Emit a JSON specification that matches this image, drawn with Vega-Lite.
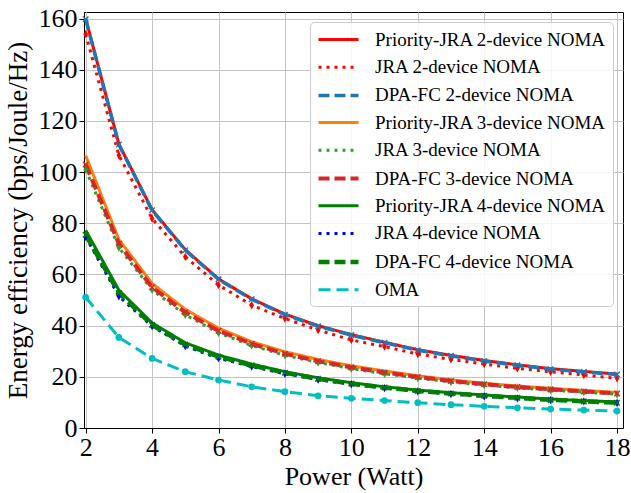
{
  "$schema": "https://vega.github.io/schema/vega-lite/v6.json",
  "width": 539,
  "height": 416,
  "autosize": {"type": "none"},
  "padding": {"left": 84, "top": 12, "right": 8, "bottom": 65},
  "background": "white",
  "config": {
    "font": "Liberation Serif",
    "view": {"stroke": "black", "strokeWidth": 1},
    "axis": {
      "labelFont": "Liberation Serif",
      "titleFont": "Liberation Serif",
      "labelFontSize": 26,
      "titleFontSize": 26,
      "labelColor": "black",
      "titleColor": "black",
      "titleFontWeight": "normal",
      "domainColor": "black",
      "tickColor": "black",
      "tickSize": 5,
      "gridColor": "#c4c4c4",
      "gridWidth": 1
    },
    "legend": {
      "labelFont": "Liberation Serif",
      "labelFontSize": 19,
      "labelColor": "black",
      "labelLimit": 0
    }
  },
  "data": {
    "values": [
      {"P": 2, "Priority-JRA 2-device NOMA": 160, "JRA 2-device NOMA": 154, "DPA-FC 2-device NOMA": 159.8, "Priority-JRA 3-device NOMA": 106.5, "JRA 3-device NOMA": 101, "DPA-FC 3-device NOMA": 103, "Priority-JRA 4-device NOMA": 77.3, "JRA 4-device NOMA": 74.7, "DPA-FC 4-device NOMA": 75.5, "OMA": 51.1},
      {"P": 3, "Priority-JRA 2-device NOMA": 111, "JRA 2-device NOMA": 106.6, "DPA-FC 2-device NOMA": 110.8, "Priority-JRA 3-device NOMA": 73.7, "JRA 3-device NOMA": 70.5, "DPA-FC 3-device NOMA": 72, "Priority-JRA 4-device NOMA": 53.9, "JRA 4-device NOMA": 51.5, "DPA-FC 4-device NOMA": 52.8, "OMA": 35.4},
      {"P": 4, "Priority-JRA 2-device NOMA": 85.3, "JRA 2-device NOMA": 81.9, "DPA-FC 2-device NOMA": 85.1, "Priority-JRA 3-device NOMA": 56.5, "JRA 3-device NOMA": 54, "DPA-FC 3-device NOMA": 55, "Priority-JRA 4-device NOMA": 41.1, "JRA 4-device NOMA": 39.8, "DPA-FC 4-device NOMA": 40.3, "OMA": 27.2},
      {"P": 5, "Priority-JRA 2-device NOMA": 69.7, "JRA 2-device NOMA": 66.9, "DPA-FC 2-device NOMA": 69.5, "Priority-JRA 3-device NOMA": 46.4, "JRA 3-device NOMA": 44.2, "DPA-FC 3-device NOMA": 45.2, "Priority-JRA 4-device NOMA": 33.3, "JRA 4-device NOMA": 32, "DPA-FC 4-device NOMA": 32.6, "OMA": 22},
      {"P": 6, "Priority-JRA 2-device NOMA": 58.3, "JRA 2-device NOMA": 55.9, "DPA-FC 2-device NOMA": 58.1, "Priority-JRA 3-device NOMA": 39, "JRA 3-device NOMA": 37.2, "DPA-FC 3-device NOMA": 38, "Priority-JRA 4-device NOMA": 28.5, "JRA 4-device NOMA": 27.3, "DPA-FC 4-device NOMA": 27.9, "OMA": 18.75},
      {"P": 7, "Priority-JRA 2-device NOMA": 50.5, "JRA 2-device NOMA": 48, "DPA-FC 2-device NOMA": 50.3, "Priority-JRA 3-device NOMA": 33.7, "JRA 3-device NOMA": 32.2, "DPA-FC 3-device NOMA": 32.9, "Priority-JRA 4-device NOMA": 25, "JRA 4-device NOMA": 24, "DPA-FC 4-device NOMA": 24.5, "OMA": 16.1},
      {"P": 8, "Priority-JRA 2-device NOMA": 44.5, "JRA 2-device NOMA": 42.8, "DPA-FC 2-device NOMA": 44.3, "Priority-JRA 3-device NOMA": 29.8, "JRA 3-device NOMA": 28.4, "DPA-FC 3-device NOMA": 29, "Priority-JRA 4-device NOMA": 22, "JRA 4-device NOMA": 21.2, "DPA-FC 4-device NOMA": 21.6, "OMA": 14.2},
      {"P": 9, "Priority-JRA 2-device NOMA": 40, "JRA 2-device NOMA": 38.3, "DPA-FC 2-device NOMA": 39.8, "Priority-JRA 3-device NOMA": 26.8, "JRA 3-device NOMA": 25.6, "DPA-FC 3-device NOMA": 26.1, "Priority-JRA 4-device NOMA": 19.6, "JRA 4-device NOMA": 18.9, "DPA-FC 4-device NOMA": 19.2, "OMA": 12.6},
      {"P": 10, "Priority-JRA 2-device NOMA": 36.5, "JRA 2-device NOMA": 34.4, "DPA-FC 2-device NOMA": 36.3, "Priority-JRA 3-device NOMA": 24.3, "JRA 3-device NOMA": 23.2, "DPA-FC 3-device NOMA": 23.7, "Priority-JRA 4-device NOMA": 17.7, "JRA 4-device NOMA": 17.1, "DPA-FC 4-device NOMA": 17.3, "OMA": 11.6},
      {"P": 11, "Priority-JRA 2-device NOMA": 33.5, "JRA 2-device NOMA": 31.8, "DPA-FC 2-device NOMA": 33.3, "Priority-JRA 3-device NOMA": 22.3, "JRA 3-device NOMA": 21.2, "DPA-FC 3-device NOMA": 21.7, "Priority-JRA 4-device NOMA": 16.1, "JRA 4-device NOMA": 15.6, "DPA-FC 4-device NOMA": 15.8, "OMA": 10.7},
      {"P": 12, "Priority-JRA 2-device NOMA": 30.6, "JRA 2-device NOMA": 28.9, "DPA-FC 2-device NOMA": 30.4, "Priority-JRA 3-device NOMA": 20.4, "JRA 3-device NOMA": 19.5, "DPA-FC 3-device NOMA": 19.9, "Priority-JRA 4-device NOMA": 14.8, "JRA 4-device NOMA": 14.3, "DPA-FC 4-device NOMA": 14.5, "OMA": 9.9},
      {"P": 13, "Priority-JRA 2-device NOMA": 28.4, "JRA 2-device NOMA": 26.8, "DPA-FC 2-device NOMA": 28.2, "Priority-JRA 3-device NOMA": 18.8, "JRA 3-device NOMA": 18, "DPA-FC 3-device NOMA": 18.4, "Priority-JRA 4-device NOMA": 13.8, "JRA 4-device NOMA": 13.3, "DPA-FC 4-device NOMA": 13.5, "OMA": 9.1},
      {"P": 14, "Priority-JRA 2-device NOMA": 26.4, "JRA 2-device NOMA": 25, "DPA-FC 2-device NOMA": 26.2, "Priority-JRA 3-device NOMA": 17.5, "JRA 3-device NOMA": 16.8, "DPA-FC 3-device NOMA": 17.1, "Priority-JRA 4-device NOMA": 12.9, "JRA 4-device NOMA": 12.4, "DPA-FC 4-device NOMA": 12.6, "OMA": 8.5},
      {"P": 15, "Priority-JRA 2-device NOMA": 24.7, "JRA 2-device NOMA": 23.3, "DPA-FC 2-device NOMA": 24.5, "Priority-JRA 3-device NOMA": 16.4, "JRA 3-device NOMA": 15.7, "DPA-FC 3-device NOMA": 16, "Priority-JRA 4-device NOMA": 12.1, "JRA 4-device NOMA": 11.6, "DPA-FC 4-device NOMA": 11.8, "OMA": 7.9},
      {"P": 16, "Priority-JRA 2-device NOMA": 23.2, "JRA 2-device NOMA": 22, "DPA-FC 2-device NOMA": 23, "Priority-JRA 3-device NOMA": 15.5, "JRA 3-device NOMA": 14.8, "DPA-FC 3-device NOMA": 15.1, "Priority-JRA 4-device NOMA": 11.3, "JRA 4-device NOMA": 10.9, "DPA-FC 4-device NOMA": 11, "OMA": 7.4},
      {"P": 17, "Priority-JRA 2-device NOMA": 22.1, "JRA 2-device NOMA": 20.7, "DPA-FC 2-device NOMA": 21.9, "Priority-JRA 3-device NOMA": 14.7, "JRA 3-device NOMA": 14, "DPA-FC 3-device NOMA": 14.3, "Priority-JRA 4-device NOMA": 10.7, "JRA 4-device NOMA": 10.4, "DPA-FC 4-device NOMA": 10.4, "OMA": 7},
      {"P": 18, "Priority-JRA 2-device NOMA": 21.1, "JRA 2-device NOMA": 19.4, "DPA-FC 2-device NOMA": 20.9, "Priority-JRA 3-device NOMA": 13.9, "JRA 3-device NOMA": 13.2, "DPA-FC 3-device NOMA": 13.5, "Priority-JRA 4-device NOMA": 10.2, "JRA 4-device NOMA": 9.8, "DPA-FC 4-device NOMA": 9.9, "OMA": 6.6}
    ]
  },
  "transform": [
    {"fold": ["Priority-JRA 2-device NOMA", "JRA 2-device NOMA", "DPA-FC 2-device NOMA", "Priority-JRA 3-device NOMA", "JRA 3-device NOMA", "DPA-FC 3-device NOMA", "Priority-JRA 4-device NOMA", "JRA 4-device NOMA", "DPA-FC 4-device NOMA", "OMA"], "as": ["series", "value"]}
  ],
  "encoding": {
    "x": {
      "field": "P", "type": "quantitative",
      "scale": {"domain": [1.95, 18.18], "nice": false, "zero": false},
      "axis": {"values": [2, 4, 6, 8, 10, 12, 14, 16, 18], "title": "Power (Watt)", "labelPadding": 1, "titlePadding": 3, "labelFlush": false}
    },
    "y": {
      "field": "value", "type": "quantitative",
      "scale": {"domain": [0, 162.6], "nice": false},
      "axis": {"values": [0, 20, 40, 60, 80, 100, 120, 140, 160], "title": "Energy efficiency (bps/Joule/Hz)", "labelPadding": 2, "titlePadding": 6, "titleFontSize": 27, "labelFlush": false}
    }
  },
  "layer": [
    {
      "mark": {"type": "line", "strokeCap": "butt"},
      "encoding": {
        "color": {
          "field": "series", "type": "nominal",
          "scale": {
            "domain": ["Priority-JRA 2-device NOMA", "JRA 2-device NOMA", "DPA-FC 2-device NOMA", "Priority-JRA 3-device NOMA", "JRA 3-device NOMA", "DPA-FC 3-device NOMA", "Priority-JRA 4-device NOMA", "JRA 4-device NOMA", "DPA-FC 4-device NOMA", "OMA"],
            "range": ["#ff0000", "#ff0000", "#1f77b4", "#ff7f0e", "#2ca02c", "#d62728", "#008000", "#0000ff", "#008000", "#00bfbf"]
          },
          "legend": {
            "title": null,
            "orient": "top-right",
            "offset": 10,
            "symbolType": "M-1,0L3,0",
            "symbolSize": 400,
            "symbolStrokeWidth": 3.5,
            "labelOffset": 34,
            "rowPadding": 5.7,
            "padding": 6,
            "fillColor": "rgba(255,255,255,0.85)",
            "strokeColor": "#cccccc",
            "cornerRadius": 4
          }
        },
        "strokeDash": {
          "field": "series", "type": "nominal",
          "scale": {
            "domain": ["Priority-JRA 2-device NOMA", "JRA 2-device NOMA", "DPA-FC 2-device NOMA", "Priority-JRA 3-device NOMA", "JRA 3-device NOMA", "DPA-FC 3-device NOMA", "Priority-JRA 4-device NOMA", "JRA 4-device NOMA", "DPA-FC 4-device NOMA", "OMA"],
            "range": [[1, 0], [3, 5], [11, 5], [1, 0], [3, 5], [11, 5], [1, 0], [3, 5], [11, 5], [12, 6]]
          },
          "legend": {"title": null}
        },
        "strokeWidth": {
          "field": "series", "type": "nominal",
          "scale": {
            "type": "ordinal",
            "domain": ["Priority-JRA 2-device NOMA", "JRA 2-device NOMA", "DPA-FC 2-device NOMA", "Priority-JRA 3-device NOMA", "JRA 3-device NOMA", "DPA-FC 3-device NOMA", "Priority-JRA 4-device NOMA", "JRA 4-device NOMA", "DPA-FC 4-device NOMA", "OMA"],
            "range": [3, 3, 3.5, 3, 3, 4, 3, 3, 4.5, 3]
          },
          "legend": null
        }
      }
    },
    {
      "transform": [{"filter": "indexof(datum.series, 'JRA') == 0"}],
      "mark": {"type": "point", "filled": true, "opacity": 1, "shape": "M0,-1L0.55,0L0,1L-0.55,0Z", "size": 70},
      "encoding": {"color": {"field": "series", "type": "nominal", "legend": null}}
    },
    {
      "transform": [{"filter": "indexof(datum.series, 'DPA') == 0"}],
      "mark": {"type": "point", "filled": false, "opacity": 1, "shape": "M-1,-1L1,1M1,-1L-1,1", "size": 30, "strokeWidth": 1.5},
      "encoding": {"color": {"field": "series", "type": "nominal", "legend": null}}
    },
    {
      "transform": [{"filter": "datum.series == 'OMA'"}],
      "mark": {"type": "circle", "opacity": 1, "size": 45},
      "encoding": {"color": {"field": "series", "type": "nominal", "legend": null}}
    }
  ]
}
